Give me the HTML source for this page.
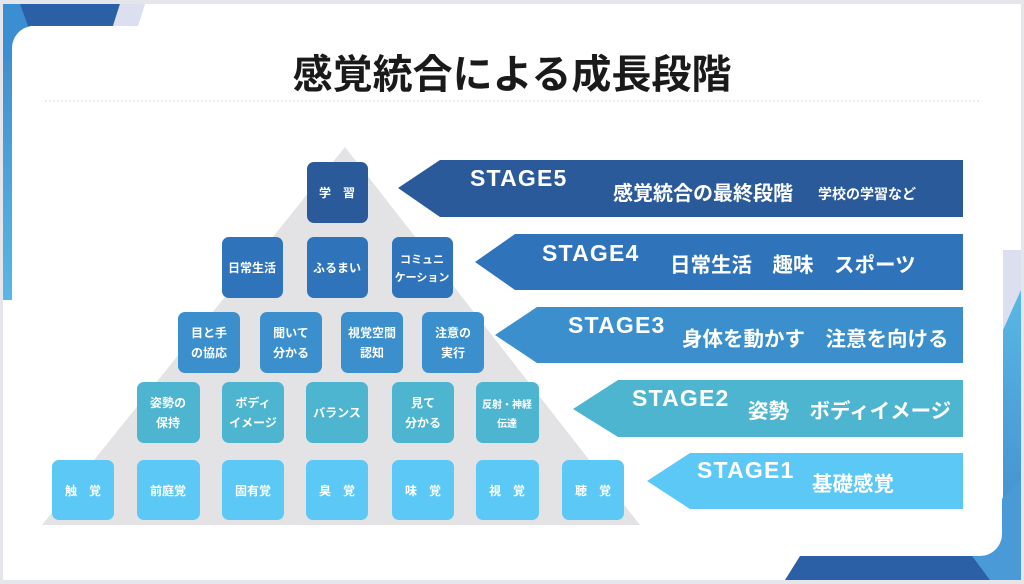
<!DOCTYPE html>
<html><head><meta charset="utf-8"><style>
html,body{margin:0;padding:0;background:#fff}
svg{display:block}
text{font-family:"Liberation Sans","Noto Sans CJK JP",sans-serif;font-weight:bold}
</style></head><body>
<svg width="1024" height="584" viewBox="0 0 1024 584" xmlns="http://www.w3.org/2000/svg">
<defs>
<linearGradient id="lg" x1="0" y1="0" x2="0" y2="1"><stop offset="0" stop-color="#3f86c9"/><stop offset="1" stop-color="#5bbde8"/></linearGradient>
<linearGradient id="rg" x1="0" y1="0" x2="0" y2="1"><stop offset="0" stop-color="#5bbde8"/><stop offset="1" stop-color="#3f86c9"/></linearGradient>
</defs>
<rect width="1024" height="584" fill="#e4e6ec"/>
<rect x="3" y="4" width="1018" height="576" fill="#fff"/>
<rect x="3" y="4" width="14" height="330" fill="url(#lg)"/>
<polygon points="3,4 30,4 30,60 3,60" fill="#3b8ed2"/>
<polygon points="20,4 120,4 113,26 28,26" fill="#2b5fa6"/>
<polygon points="120,4 145,4 138,26 113,26" fill="#dcdff0"/>
<rect x="1003" y="260" width="18" height="320" fill="url(#rg)"/>
<polygon points="1003,250 1021,250 1021,290 1003,330" fill="#dcdff0"/>
<polygon points="800,556 1000,556 1000,580 785,580" fill="#2b5fa6"/>
<polygon points="960,540 1021,480 1021,580 990,580" fill="#4a9ad8"/>
<rect x="12" y="26" width="990" height="530" rx="22" fill="#fff"/>
<rect x="3" y="300" width="40" height="277" fill="#fff"/>
<text x="512" y="88" font-size="40" text-anchor="middle" fill="#1a1a1a">感覚統合による成長段階</text>
<line x1="45" y1="101" x2="980" y2="101" stroke="#d8d8d8" stroke-width="1" stroke-dasharray="2,2"/>
<polygon points="345,147 640,525 42,525" fill="#e3e3e5"/>
<g font-size="12" fill="#fff" text-anchor="middle">
<rect x="307" y="162" width="61" height="61" rx="7" fill="#2b5a9a"/>
<text x="337" y="197">学　習</text>
<g fill="#2f73bb">
<rect x="222" y="237" width="61" height="61" rx="7"/>
<rect x="307" y="237" width="61" height="61" rx="7"/>
<rect x="392" y="237" width="61" height="61" rx="7"/>
</g>
<text x="252" y="272">日常生活</text>
<text x="337" y="272">ふるまい</text>
<text x="422" y="263" font-size="11">コミュニ</text><text x="422" y="281" font-size="11">ケーション</text>
<g fill="#3a8fcc">
<rect x="178" y="312" width="62" height="61" rx="7"/>
<rect x="260" y="312" width="62" height="61" rx="7"/>
<rect x="341" y="312" width="62" height="61" rx="7"/>
<rect x="422" y="312" width="62" height="61" rx="7"/>
</g>
<text x="209" y="337">目と手</text><text x="209" y="357">の協応</text>
<text x="291" y="337">聞いて</text><text x="291" y="357">分かる</text>
<text x="372" y="337">視覚空間</text><text x="372" y="357">認知</text>
<text x="453" y="337">注意の</text><text x="453" y="357">実行</text>
<g fill="#4db5cf">
<rect x="137" y="382" width="63" height="61" rx="7"/>
<rect x="222" y="382" width="62" height="61" rx="7"/>
<rect x="306" y="382" width="62" height="61" rx="7"/>
<rect x="392" y="382" width="62" height="61" rx="7"/>
<rect x="476" y="382" width="63" height="61" rx="7"/>
</g>
<text x="168" y="407">姿勢の</text><text x="168" y="427">保持</text>
<text x="253" y="407">ボディ</text><text x="253" y="427">イメージ</text>
<text x="337" y="417">バランス</text>
<text x="423" y="407">見て</text><text x="423" y="427">分かる</text>
<text x="507" y="408" font-size="10">反射・神経</text><text x="507" y="427" font-size="10">伝達</text>
<g fill="#5bc8f5">
<rect x="52" y="460" width="62" height="60" rx="7"/>
<rect x="137" y="460" width="63" height="60" rx="7"/>
<rect x="222" y="460" width="62" height="60" rx="7"/>
<rect x="306" y="460" width="62" height="60" rx="7"/>
<rect x="392" y="460" width="62" height="60" rx="7"/>
<rect x="476" y="460" width="63" height="60" rx="7"/>
<rect x="562" y="460" width="62" height="60" rx="7"/>
</g>
<text x="83" y="495">触　覚</text>
<text x="168" y="495">前庭覚</text>
<text x="253" y="495">固有覚</text>
<text x="337" y="495">臭　覚</text>
<text x="423" y="495">味　覚</text>
<text x="507" y="495">視　覚</text>
<text x="593" y="495">聴　覚</text>
</g>
<polygon points="398,188 440,160 963,160 963,217 440,217" fill="#2b5a9a"/>
<polygon points="475,262 515,234 963,234 963,290 515,290" fill="#2f73bb"/>
<polygon points="495,335 537,307 963,307 963,363 537,363" fill="#3a8fcc"/>
<polygon points="573,409 618,380 963,380 963,437 618,437" fill="#4db5cf"/>
<polygon points="647,481 690,453 963,453 963,509 690,509" fill="#5bc8f5"/>
<g fill="#fff">
<g font-size="23" letter-spacing="1.2">
<text x="470" y="186">STAGE5</text>
<text x="542" y="261">STAGE4</text>
<text x="568" y="333">STAGE3</text>
<text x="632" y="406">STAGE2</text>
<text x="697" y="478">STAGE1</text>
</g>
<text x="613" y="200" font-size="20">感覚統合の最終段階</text>
<text x="818" y="199" font-size="14">学校の学習など</text>
<text x="670" y="272" font-size="20.5">日常生活　趣味　スポーツ</text>
<text x="682" y="346" font-size="20.5">身体を動かす　注意を向ける</text>
<text x="748" y="418" font-size="20.5">姿勢　ボディイメージ</text>
<text x="812" y="491" font-size="20.5">基礎感覚</text>
</g>
</svg>
</body></html>
